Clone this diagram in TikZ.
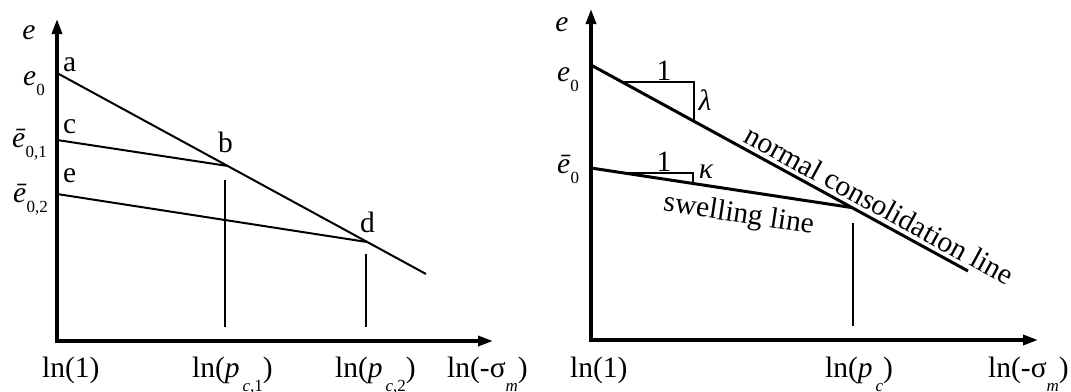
\documentclass[tikz,border=0pt]{standalone}
\usepackage{fontspec}
\setmainfont{Liberation Serif}
\usetikzlibrary{arrows.meta,calc}
\newcommand{\lsub}[1]{\raisebox{-10pt}{\fontsize{17}{17}\selectfont #1}}
\newcommand{\psub}[1]{\raisebox{-14pt}{\fontsize{17}{17}\selectfont #1}}
\begin{document}
\begin{tikzpicture}[x=1pt,y=-1pt,
  every node/.style={font=\fontsize{29.5}{34}\selectfont, inner sep=0pt},
  axis/.style={line width=3.3pt, line join=miter, {Triangle[length=15pt,width=10pt]}-{Triangle[length=15pt,width=10pt]}},
  curveL/.style={line width=2pt},
  curveR/.style={line width=3pt},
  guide/.style={line width=1.3pt},
  lab/.style={anchor=base west}]
\useasboundingbox (0,0) rectangle (1071,391);

% ---------------- left panel ----------------
\coordinate (Y1) at (57,19);
\coordinate (O1) at (57,341);
\coordinate (X1) at (493,341);
\draw[axis] (Y1) -- (O1) -- (X1);

\coordinate (a0) at (57,73);
\coordinate (aend) at (426,274);
\coordinate (b) at (228,166);
\coordinate (c0) at (57,140);
\coordinate (e0) at (57,194);
\coordinate (d) at (367,242);
\draw[curveL] (a0) -- (aend);
\draw[curveL] (c0) -- (b);
\draw[curveL] (e0) -- (d);

\coordinate (v1t) at (225,180); \coordinate (v1b) at (225,327);
\coordinate (v2t) at (366,254); \coordinate (v2b) at (366,327);
\draw[guide] (v1t) -- (v1b);
\draw[guide] (v2t) -- (v2b);

\node (eL) at (29,33) {\textit{e}};
\node[lab] (e0L) at (23,85) {\textit{e}\lsub{0}};
\node[lab] (e01L) at (12,147) {\textit{ē}\lsub{0,1}};
\node[lab] (e02L) at (13,202) {\textit{ē}\lsub{0,2}};
\node[lab] (la) at (63,71) {a};
\node[lab] (lc) at (63,133) {c};
\node[lab] (le) at (63,182) {e};
\node[lab] (lb) at (218,152) {b};
\node[lab] (ld) at (360,232) {d};

\node[lab] (ln1L) at (42,377) {ln(1)};
\node[lab] (lnp1) at (192,377) {ln(\textit{p}\psub{\,\textit{c},1})};
\node[lab] (lnp2) at (335,377) {ln(\textit{p}\psub{\,\textit{c},2})};
\node[lab] (lnsL) at (447,377) {ln(-σ\psub{\textit{m}})};

% ---------------- right panel ----------------
\coordinate (Y2) at (591,9);
\coordinate (O2) at (591,340);
\coordinate (X2) at (1038,340);
\draw[axis] (Y2) -- (O2) -- (X2);

\coordinate (n0) at (591,65);
\coordinate (n1) at (968,271);
\coordinate (s0) at (591,168);
\coordinate (pc) at (852,207.6);
\draw[curveR] (n0) -- (n1);
\draw[curveR] (s0) -- (pc);

\coordinate (t1a) at (622,82);
\coordinate (t1b) at (694,82);
\coordinate (t1c) at (694,121.3);
\draw[guide] (t1a) -- (t1b) -- (t1c);
\coordinate (t2a) at (623,172.9);
\coordinate (t2b) at (693,172.9);
\coordinate (t2c) at (693,183.6);
\draw[guide] (t2a) -- (t2b) -- (t2c);

\coordinate (v3t) at (853,223); \coordinate (v3b) at (853,326);
\draw[guide] (v3t) -- (v3b);

\node (one1) at (664,71) {1};
\node (lam) at (705,100) {\textit{λ}};
\node (one2) at (664,162) {1};
\node (kap) at (706,172) {\textit{κ}};

\path (n0) -- (n1) node[pos=0.745, sloped, above=5pt] (ncl) {normal consolidation line};
\path (s0) -- (pc) node[pos=0.58, sloped, below=11pt] (swl) {swelling line};

\node (eR) at (562,25) {\textit{e}};
\node[lab] (e0R) at (557,81) {\textit{e}\lsub{0}};
\node[lab] (eb0R) at (557,173) {\textit{ē}\lsub{0}};

\node[lab] (ln1R) at (570,377) {ln(1)};
\node[lab] (lnpc) at (825,377) {ln(\textit{p}\psub{\,\textit{c}})};
\node[lab] (lnsR) at (988,377) {ln(-σ\psub{\textit{m}})};
\end{tikzpicture}
\end{document}
